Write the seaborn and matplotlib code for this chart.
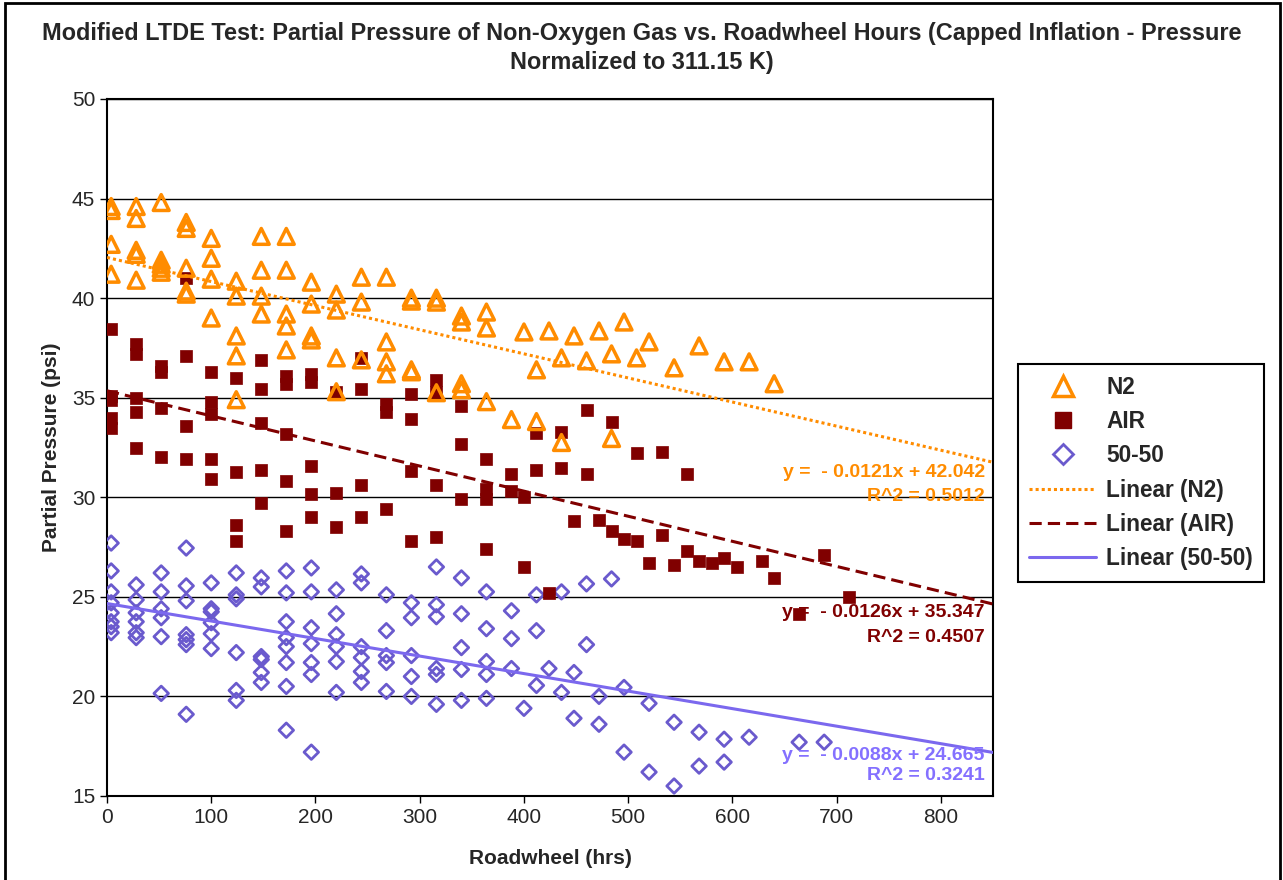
import matplotlib
matplotlib.use("Agg")
import matplotlib.pyplot as plt
from matplotlib.lines import Line2D
from matplotlib.patches import Rectangle
import numpy as np
import pandas as pd
import seaborn as sns

# values (roadwheel hours, partial pressure psi)
n2_hrs = [4, 4, 4, 4, 28, 28, 28, 28, 28, 52, 52, 52, 52, 52,
          76, 76, 76, 76, 76, 100, 100, 100, 100, 124, 124, 124, 124, 124,
          148, 148, 148, 148, 172, 172, 172, 172, 172, 196, 196, 196, 196,
          220, 220, 220, 220, 244, 244, 244, 268, 268, 268, 268,
          292, 292, 292, 292, 316, 316, 316, 340, 340, 340, 340,
          364, 364, 364, 388, 400, 412, 412, 424, 436, 436, 448, 460, 472,
          484, 484, 496, 508, 520, 544, 568, 592, 616, 640]
n2_psi = [44.6, 44.4, 42.7, 41.2, 44.6, 44.0, 42.4, 42.2, 40.9, 44.8, 41.9, 41.7, 41.5, 41.3,
          43.8, 43.5, 41.5, 40.35, 40.2, 43.0, 42.0, 40.95, 39.0, 40.85, 40.1, 38.1, 37.1, 34.9,
          43.1, 41.4, 40.1, 39.2, 43.1, 41.4, 39.2, 38.6, 37.4, 40.8, 39.7, 38.1, 37.9,
          40.2, 39.4, 37.0, 35.3, 41.05, 39.8, 36.9, 41.05, 37.8, 36.8, 36.2,
          40.0, 39.85, 36.4, 36.3, 40.0, 39.8, 35.25, 39.1, 38.8, 35.7, 35.4,
          39.3, 38.5, 34.8, 33.9, 38.3, 36.4, 33.8, 38.35, 37.0, 32.75, 38.1, 36.85, 38.35,
          37.2, 32.95, 38.8, 37.0, 37.8, 36.5, 37.6, 36.8, 36.8, 35.7]

air_hrs = [4, 4, 4, 4, 4, 28, 28, 28, 28, 28, 52, 52, 52, 52,
           76, 76, 76, 76, 100, 100, 100, 100, 100, 124, 124, 124, 124,
           148, 148, 148, 148, 148, 172, 172, 172, 172, 172, 196, 196, 196, 196, 196,
           220, 220, 220, 244, 244, 244, 244, 268, 268, 268, 292, 292, 292, 292,
           316, 316, 316, 316, 340, 340, 340, 364, 364, 364, 364, 388, 388,
           400, 400, 412, 412, 424, 436, 436, 448, 460, 460, 472, 484, 484, 496,
           508, 508, 520, 532, 532, 544, 556, 556, 568, 580, 592, 604, 628, 640,
           664, 688, 712]
air_psi = [38.45, 35.1, 34.9, 34.0, 33.5, 37.7, 37.2, 35.0, 34.3, 32.45, 36.6, 36.3, 34.5, 32.0,
           41.0, 37.1, 33.6, 31.9, 36.3, 34.8, 34.2, 31.9, 30.9, 36.0, 31.25, 28.6, 27.8,
           36.9, 35.45, 33.75, 31.35, 29.7, 36.1, 35.7, 33.2, 30.8, 28.3, 36.2, 35.8, 31.55, 30.15, 29.0,
           35.3, 30.2, 28.5, 37.0, 35.45, 30.6, 29.0, 34.7, 34.3, 29.4, 35.2, 33.95, 31.3, 27.8,
           35.9, 35.3, 30.6, 28.0, 34.6, 32.65, 29.9, 31.9, 30.4, 29.9, 27.4, 31.15, 30.3,
           30.0, 26.5, 33.25, 31.35, 25.2, 33.3, 31.45, 28.8, 34.4, 31.15, 28.85, 33.8, 28.3, 27.9,
           32.2, 27.8, 26.7, 32.25, 28.1, 26.6, 31.15, 27.3, 26.8, 26.7, 26.95, 26.5, 26.8, 25.95,
           24.15, 27.1, 25.0]

mix_hrs = [4, 4, 4, 4, 4, 4, 4, 4, 28, 28, 28, 28, 28, 28, 52, 52, 52, 52, 52, 52,
           76, 76, 76, 76, 76, 76, 76, 100, 100, 100, 100, 100, 100,
           124, 124, 124, 124, 124, 124, 148, 148, 148, 148, 148, 148,
           172, 172, 172, 172, 172, 172, 172, 172, 196, 196, 196, 196, 196, 196, 196,
           220, 220, 220, 220, 220, 220, 244, 244, 244, 244, 244, 244,
           268, 268, 268, 268, 268, 292, 292, 292, 292, 292,
           316, 316, 316, 316, 316, 316, 340, 340, 340, 340, 340,
           364, 364, 364, 364, 364, 388, 388, 388, 400, 412, 412, 412, 424,
           436, 436, 448, 448, 460, 460, 472, 472, 484, 496, 496, 520, 520,
           544, 544, 568, 568, 592, 592, 616, 664, 688]
mix_psi = [27.7, 26.3, 25.25, 24.7, 24.2, 23.75, 23.5, 23.2, 25.6, 24.85, 24.2, 23.75, 23.2, 22.95,
           26.2, 25.25, 24.4, 23.95, 23.0, 20.15,
           27.45, 25.55, 24.8, 23.1, 22.85, 22.6, 19.1, 25.7, 24.4, 24.25, 23.7, 23.15, 22.4,
           26.2, 25.1, 24.9, 22.2, 20.3, 19.8, 25.95, 25.5, 22.0, 21.85, 21.2, 20.7,
           26.3, 25.2, 23.75, 22.95, 22.5, 21.7, 20.5, 18.3, 26.45, 25.25, 23.45, 22.65, 21.7, 21.1, 17.2,
           25.35, 24.15, 23.1, 22.5, 21.75, 20.2, 26.15, 25.7, 22.5, 21.95, 21.25, 20.7,
           25.1, 23.3, 22.05, 21.7, 20.25, 24.7, 23.95, 22.05, 21.0, 20.0,
           26.5, 24.6, 24.0, 21.4, 21.1, 19.6, 25.95, 24.15, 22.45, 21.35, 19.8,
           25.25, 23.4, 21.75, 21.1, 19.9, 24.3, 22.9, 21.4, 19.4, 25.1, 23.3, 20.55, 21.4,
           25.25, 20.2, 21.2, 18.9, 25.65, 22.6, 20.0, 18.6, 25.9, 20.45, 17.2, 19.65, 16.2,
           18.7, 15.5, 18.2, 16.5, 17.85, 16.7, 17.95, 17.7, 17.7]

# Excel trendline equations printed on the chart
slopes = [-0.0121, -0.0126, -0.0088]
intercepts = [42.042, 35.347, 24.665]
r2 = [0.5012, 0.4507, 0.3241]

orange = "#FF8C00"
maroon = "#800000"
slate = "#6A5ACD"
slate_line = "#7B68EE"

sns.set_style("white")
plt.rcParams["font.family"] = ["Liberation Sans", "DejaVu Sans"]

fig = plt.figure(figsize=(12.83, 8.8), dpi=100)
ax = fig.add_axes([0.0834, 0.0955, 0.6906, 0.792])

n2 = pd.DataFrame({"hrs": n2_hrs, "psi": n2_psi})
air = pd.DataFrame({"hrs": air_hrs, "psi": air_psi})
mix = pd.DataFrame({"hrs": mix_hrs, "psi": mix_psi})

sns.scatterplot(data=mix, x="hrs", y="psi", ax=ax, marker="D", s=55,
                facecolor="none", edgecolor=slate, linewidth=2, zorder=3)
sns.scatterplot(data=air, x="hrs", y="psi", ax=ax, marker="s", s=80,
                color=maroon, edgecolor=maroon, linewidth=0.5, zorder=4)
sns.scatterplot(data=n2, x="hrs", y="psi", ax=ax, marker="^", s=130,
                facecolor="none", edgecolor=orange, linewidth=2.5, zorder=5)

# trendlines
xfit = np.array([0, 850])
styles = [(orange, (0, (1, 1)), 2.2), (maroon, (0, (4, 2)), 2.2), (slate_line, "-", 2.2)]
for m, b, (c, ls, lw) in zip(slopes, intercepts, styles):
    ax.plot(xfit, m * xfit + b, color=c, linestyle=ls, linewidth=lw, zorder=6)

# trendline labels
label_y = [(31.26, 30.05), (24.2, 22.95), (17.05, 16.05)]
label_c = [orange, maroon, "#8470FF"]
for m, b, r, (y1, y2), c in zip(slopes, intercepts, r2, label_y, label_c):
    ax.text(842, y1, f"y =  - {abs(m):.4f}x + {b:.3f}", color=c, fontsize=14,
            fontweight="bold", ha="right", va="center", zorder=7)
    ax.text(842, y2, f"R^2 = {r:.4f}", color=c, fontsize=14,
            fontweight="bold", ha="right", va="center", zorder=7)

ax.set_xlim(0, 850)
ax.set_ylim(15, 50)
ax.set_xticks(range(0, 900, 100))
ax.set_yticks(range(15, 55, 5))
ax.yaxis.grid(True, color="black", linewidth=1)
ax.set_axisbelow(True)
for sp in ax.spines.values():
    sp.set_color("black")
    sp.set_linewidth(1.5)
ax.tick_params(axis="both", labelsize=15, direction="out", length=5, width=1,
               color="black", bottom=True, left=True)
ax.set_xlabel("Roadwheel (hrs)", fontsize=15, fontweight="bold", labelpad=16)
ax.set_ylabel("Partial Pressure (psi)", fontsize=15, fontweight="bold", labelpad=8)

fig.text(0.5, 0.962, "Modified LTDE Test: Partial Pressure of Non-Oxygen Gas vs. Roadwheel Hours (Capped Inflation - Pressure",
         ha="center", va="center", fontsize=16.9, fontweight="bold")
fig.text(0.5, 0.929, "Normalized to 311.15 K)", ha="center", va="center",
         fontsize=16.9, fontweight="bold")

handles = [
    Line2D([], [], marker="^", ls="none", mfc="none", mec=orange, mew=2.5, ms=14),
    Line2D([], [], marker="s", ls="none", color=maroon, ms=12),
    Line2D([], [], marker="D", ls="none", mfc="none", mec=slate, mew=2, ms=10),
    Line2D([], [], color=orange, ls=(0, (1, 1)), lw=2.2),
    Line2D([], [], color=maroon, ls=(0, (4, 2)), lw=2.2),
    Line2D([], [], color=slate_line, ls="-", lw=2.2),
]
labels = ["N2", "AIR", "50-50", "Linear (N2)", "Linear (AIR)", "Linear (50-50)"]
leg = fig.legend(handles, labels, loc="upper left", bbox_to_anchor=(0.7935, 0.586),
                 borderaxespad=0, frameon=True, fancybox=False, edgecolor="black",
                 framealpha=1, prop={"size": 16.3, "weight": "bold"}, handlelength=2.95,
                 labelspacing=0.5, borderpad=0.5, handletextpad=0.45)
leg.get_frame().set_linewidth(1.5)

fig.patches.append(Rectangle((0.004, -0.01), 0.994, 1.007, transform=fig.transFigure,
                             fill=False, edgecolor="black", linewidth=2))

fig.savefig("out.png", dpi=100)
